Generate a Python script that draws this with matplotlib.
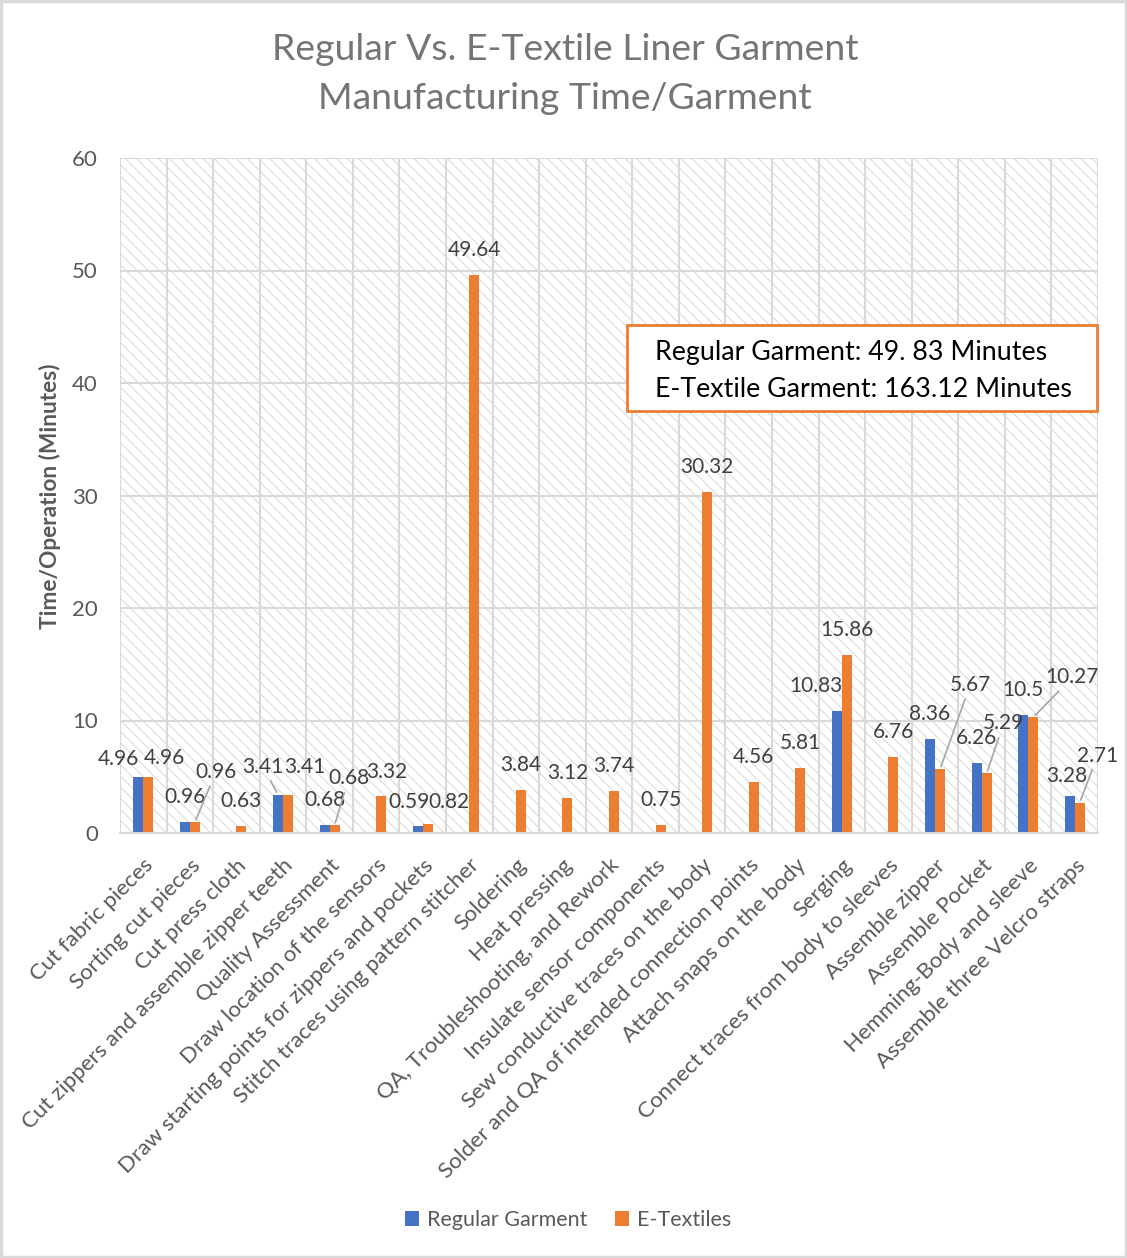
import matplotlib
matplotlib.use("Agg")
import matplotlib.pyplot as plt
from matplotlib.patches import Rectangle
import numpy as np

plt.rcParams["font.family"] = ["Lato", "DejaVu Sans"]
plt.rcParams["hatch.linewidth"] = 0.6

categories = [
    "Cut fabric pieces",
    "Sorting cut pieces",
    "Cut press cloth",
    "Cut zippers and assemble zipper teeth",
    "Quality Assessment",
    "Draw location of the sensors",
    "Draw starting points for zippers and pockets",
    "Stitch traces using pattern stitcher",
    "Soldering",
    "Heat pressing",
    "QA, Troubleshooting, and Rework",
    "Insulate sensor components",
    "Sew conductive traces on the body",
    "Solder and QA of intended connection points",
    "Attach snaps on the body",
    "Serging",
    "Connect traces from body to sleeves",
    "Assemble zipper",
    "Assemble Pocket",
    "Hemming-Body and sleeve",
    "Assemble three Velcro straps",
]

regular = [4.96, 0.96, None, 3.41, 0.68, None, 0.59, None, None, None, None,
           None, None, None, None, 10.83, None, 8.36, 6.26, 10.5, 3.28]
etextiles = [4.96, 0.96, 0.63, 3.41, 0.68, 3.32, 0.82, 49.64, 3.84, 3.12, 3.74,
             0.75, 30.32, 4.56, 5.81, 15.86, 6.76, 5.67, 5.29, 10.27, 2.71]

series_names = ["Regular Garment", "E-Textiles"]
yticks = [0, 10, 20, 30, 40, 50, 60]
title_text = "Regular Vs. E-Textile Liner Garment\nManufacturing Time/Garment"
ylabel_text = "Time/Operation (Minutes)"
totals_text = "Regular Garment: 49. 83 Minutes\nE-Textile Garment: 163.12 Minutes"

BLUE = "#4472c4"
ORANGE = "#ed7d31"
GRID = "#d9d9d9"
TXT = "#404040"
TICK = "#595959"

W, H = 1127, 1258
fig = plt.figure(figsize=(W / 100, H / 100), dpi=100)
fig.patch.set_facecolor("white")
fig.add_artist(Rectangle((0.001, 0.001), 0.998, 0.998, transform=fig.transFigure,
                         fill=False, edgecolor=GRID, lw=2.5))

left, right, top, bottom = 120, 1098, 158, 833
ax = fig.add_axes([left / W, 1 - bottom / H, (right - left) / W, (bottom - top) / H])

n = len(categories)
x = np.arange(n)
bw = 0.215

# patterned plot area
ax.add_patch(Rectangle((0, 0), 1, 1, transform=ax.transAxes, facecolor="white",
                       edgecolor="#d2d2d2", hatch="\\\\\\", lw=0, zorder=0))

reg_vals = np.array([np.nan if v is None else v for v in regular], dtype=float)
et_vals = np.array(etextiles, dtype=float)

ax.bar(x - bw / 2, np.nan_to_num(reg_vals), width=bw, color=BLUE, zorder=3,
       label=series_names[0])
ax.bar(x + bw / 2, et_vals, width=bw, color=ORANGE, zorder=3,
       label=series_names[1])

ax.set_xlim(-0.5, n - 0.5)
ax.set_ylim(0, 60)
ax.set_yticks(yticks)
ax.set_yticklabels([str(t) for t in yticks], fontsize=16, color=TICK)
ax.tick_params(axis="y", length=0, pad=16)
ax.tick_params(axis="x", length=0, pad=16)
ax.set_xticks(x)
ax.set_xticklabels(categories, rotation=45, ha="right", rotation_mode="anchor",
                   fontsize=16, color=TICK)

for yv in yticks[1:]:
    ax.axhline(yv, color=GRID, lw=1.5, zorder=1)
for xv in np.arange(-0.5, n, 1.0):
    ax.axvline(xv, color=GRID, lw=1.5, zorder=1)
for s in ["top", "right", "left"]:
    ax.spines[s].set_visible(False)
ax.spines["bottom"].set_color(GRID)
ax.spines["bottom"].set_linewidth(1.5)
ax.spines["bottom"].set_zorder(4)

# label offsets in pixels (dx, dy) relative to bar top; leader lines where flagged
PT = 0.72
default_off = (0, 25, False)
reg_off = {0: (-20, 18, False), 3: (-15, 28, True), 6: (-9, 24, False),
           15: (-21, 25, False), 20: (-3, 20, False)}
et_off = {0: (16, 19, False), 1: (21, 50, True), 3: (17, 28, False),
          4: (14, 47, True), 5: (6, 24, False), 6: (21, 22, False),
          17: (30, 84, True), 18: (17, 50, True), 19: (39, 40, True),
          20: (18, 47, True)}


def label_bars(values, shift, offsets):
    for i, v in enumerate(values):
        if np.isnan(v):
            continue
        dx, dy, lead = offsets.get(i, default_off)
        arrow = None
        if lead:
            arrow = dict(arrowstyle="-", color="#a6a6a6", lw=1.2,
                         shrinkA=1, shrinkB=2)
        ax.annotate(f"{v:g}", xy=(i + shift, v), xytext=(dx * PT, dy * PT),
                    textcoords="offset points", ha="center", va="center",
                    fontsize=15, color=TXT, zorder=6, arrowprops=arrow,
                    annotation_clip=False)


label_bars(reg_vals, -bw / 2, reg_off)
label_bars(et_vals, bw / 2, et_off)

# totals box
fig.add_artist(Rectangle((627 / W, 1 - 411 / H), (1097 - 627) / W, (411 - 325) / H,
                         transform=fig.transFigure, facecolor="white",
                         edgecolor=ORANGE, lw=2, zorder=6))
fig.text(655 / W, 1 - 371 / H, totals_text, fontsize=19.3, color="black",
         ha="left", va="center", linespacing=1.62, zorder=7)

fig.text(565 / W, 1 - 74 / H, title_text, fontsize=26.9, color="#757575",
         ha="center", va="center", linespacing=1.62)

fig.text(50 / W, 1 - 496 / H, ylabel_text, fontsize=16.3, fontweight="bold",
         color=TICK, rotation=90, ha="center", va="center")

leg = fig.legend(loc="center", bbox_to_anchor=(568 / W, 1 - 1220 / H), ncol=2,
                 frameon=False, fontsize=15.5, handlelength=0.65, handleheight=0.65,
                 handletextpad=0.35, columnspacing=1.3)
for t in leg.get_texts():
    t.set_color(TICK)

fig.savefig("out.png", dpi=100)
